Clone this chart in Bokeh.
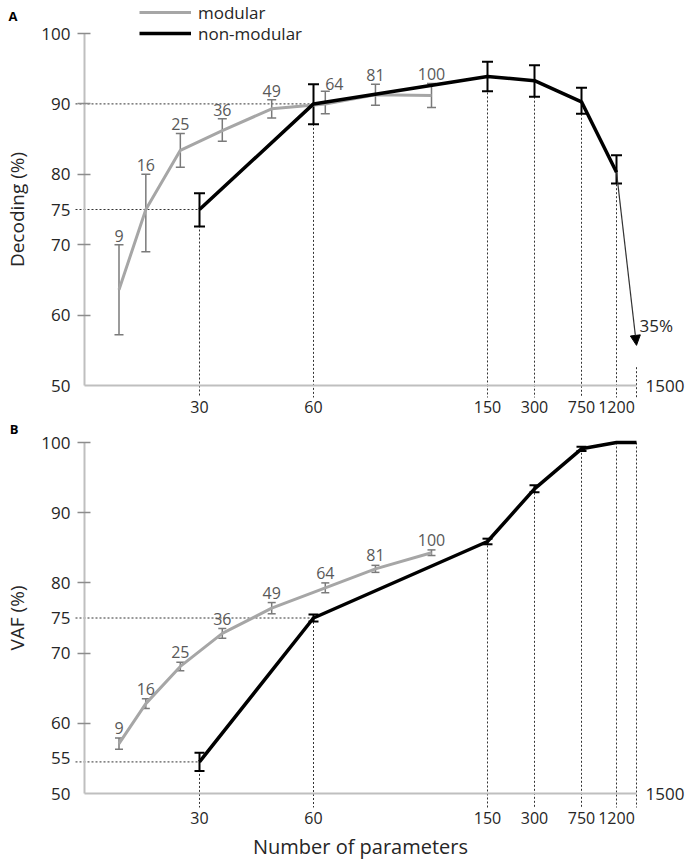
import numpy as np
from bokeh.plotting import figure
from bokeh.models import (ColumnDataSource, Range1d, FixedTicker, Whisker, TeeHead,
                          Arrow, NormalHead, Label, Legend, LegendItem)
from bokeh.layouts import column
from bokeh.embed import file_html
from bokeh.resources import INLINE
from bokeh.core.properties import value

# ---------------- data ----------------
modular_n = [9, 16, 25, 36, 49, 64, 81, 100]
nonmod_n_A = [30, 60, 150, 300, 750, 1200]
nonmod_n_B = [30, 60, 150, 300, 750, 1200, 1500]

dec_mod = [63.6, 75.0, 83.4, 86.2, 89.3, 90.0, 91.3, 91.2]
dec_mod_lo = [57.2, 69.0, 81.0, 84.7, 88.0, 88.6, 89.8, 89.5]
dec_mod_hi = [70.0, 80.0, 85.8, 87.9, 90.6, 91.8, 92.8, 92.9]
dec_non = [75.0, 90.0, 93.9, 93.3, 90.3, 80.3]
dec_non_lo = [72.6, 87.1, 91.8, 91.0, 88.6, 78.7]
dec_non_hi = [77.3, 92.8, 96.0, 95.5, 92.3, 82.7]
drop_n = 1500
drop_label = "35%"

vaf_mod = [57.1, 62.8, 68.1, 72.8, 76.4, 79.3, 82.0, 84.3]
vaf_mod_err = [0.8, 0.7, 0.6, 0.7, 0.8, 0.7, 0.5, 0.4]
vaf_non = [54.5, 75.0, 85.9, 93.4, 99.1, 100.0, 100.0]
vaf_non_err = [1.3, 0.5, 0.4, 0.5, 0.3, 0.0, 0.0]

x_tick_n = [30, 60, 150, 300, 750, 1200]
end_n = 1500
y_ticks_A = [50, 60, 70, 75, 80, 90, 100]
y_ticks_B = [50, 55, 60, 70, 75, 80, 90, 100]
y_tick_marks = [60, 70, 80, 90, 100]
series_names = ["modular", "non-modular"]

# piecewise axis scale of the original (number of parameters -> axis position)
axis_knots_n = [0, 30, 60, 100, 150, 300, 750, 1200, 1500]
axis_knots_pos = [0, 115, 229, 347, 403, 450, 497, 532, 552]


def xpos(n):
    return np.interp(np.asarray(n, dtype=float), axis_knots_n, axis_knots_pos)


FONT = "Open Sans"
TXT = "#262626"
GRAY_LINE = "#a6a6a6"
GRAY_ERR = "#7a7a7a"
DOT = "#333333"
W = 686
AXIS_X = 84  # pixel column of the y axis


def make_panel(height, ylabel, y_ticks, px_per_unit, top_px, x_standoff, xlabel=None):
    y_top = 100 + top_px / px_per_unit
    y_bot = 100 - (height - top_px) / px_per_unit
    p = figure(width=W, height=height,
               x_range=Range1d(-AXIS_X, W - AXIS_X), y_range=Range1d(y_bot, y_top),
               output_backend="svg", toolbar_location=None, min_border=0)
    p.outline_line_color = None
    p.xgrid.visible = False
    p.ygrid.visible = False
    # y axis
    ya = p.yaxis[0]
    ya.fixed_location = 0
    ya.bounds = (50, 100)
    ya.ticker = FixedTicker(ticks=y_ticks, minor_ticks=y_tick_marks)
    ya.major_tick_line_color = None
    ya.major_tick_out = 0
    ya.major_tick_in = 0
    ya.minor_tick_line_color = "#8c8c8c"
    ya.minor_tick_line_width = 1.5
    ya.minor_tick_in = 6
    ya.minor_tick_out = 7
    ya.axis_line_color = "#bfbfbf"
    ya.axis_line_width = 2
    ya.major_label_standoff = 7
    ya.major_label_text_font = FONT
    ya.major_label_text_font_size = "17px"
    ya.major_label_text_color = TXT
    ya.axis_label = ylabel
    ya.axis_label_text_font = FONT
    ya.axis_label_text_font_size = "19px"
    ya.axis_label_text_font_style = "normal"
    ya.axis_label_text_color = TXT
    ya.axis_label_standoff = 8
    # x axis
    xa = p.xaxis[0]
    xa.fixed_location = 50
    tick_pos = [int(round(float(v))) for v in xpos(x_tick_n)]
    xa.ticker = FixedTicker(ticks=tick_pos, minor_ticks=[])
    xa.major_label_overrides = {t: str(n) for t, n in zip(tick_pos, x_tick_n)}
    xa.major_tick_line_color = None
    xa.minor_tick_line_color = None
    xa.major_tick_out = 0
    xa.major_tick_in = 0
    xa.axis_line_color = "#bfbfbf"
    xa.axis_line_width = 2
    xa.bounds = (0, float(xpos(end_n)))
    xa.major_label_standoff = x_standoff
    xa.major_label_text_font = FONT
    xa.major_label_text_font_size = "16px"
    xa.major_label_text_color = TXT
    if xlabel:
        xa.axis_label = xlabel
        xa.axis_label_text_font = FONT
        xa.axis_label_text_font_size = "20px"
        xa.axis_label_text_font_style = "normal"
        xa.axis_label_text_color = TXT
        xa.axis_label_standoff = 6
    # end label "1500"
    p.add_layout(Label(x=float(xpos(end_n)), y=50, x_offset=9, text=str(end_n),
                       text_align="left", text_baseline="middle",
                       text_font=FONT, text_font_size="17px", text_color=TXT))
    return p


def dotted(p, x0, y0, x1, y1):
    src = ColumnDataSource(dict(x0=list(x0), y0=list(y0), x1=list(x1), y1=list(y1)))
    p.add_layout(Arrow(x_start="x0", y_start="y0", x_end="x1", y_end="y1", source=src,
                       end=None, start=None, line_dash="2 2", line_width=1,
                       line_color=DOT, level="underlay"))


def errors(p, xs, lo, hi, color, width, cap):
    src = ColumnDataSource(dict(x=list(xs), lo=list(lo), hi=list(hi)))
    p.add_layout(Whisker(base="x", lower="lo", upper="hi", source=src,
                         line_color=color, line_width=width,
                         upper_head=TeeHead(size=cap, line_color=color, line_width=width),
                         lower_head=TeeHead(size=cap, line_color=color, line_width=width)))


def point_labels(p, xs, tops, dx, dy):
    src = ColumnDataSource(dict(x=list(xs), y=list(tops), t=[str(n) for n in modular_n],
                                dx=dx, dy=dy))
    p.text(x="x", y="y", text="t", x_offset="dx", y_offset="dy", source=src,
           text_align="center", text_baseline="bottom",
           text_font=value(FONT), text_font_size="16px", text_color="#595959")


def legend_row(p, label, renderer, center_px, height):
    p.add_layout(Legend(items=[LegendItem(label=label, renderers=[renderer])],
                        location=(139, height - center_px - 12), orientation="vertical",
                        glyph_width=52, glyph_height=24, label_height=24, label_standoff=7,
                        spacing=0, padding=0, margin=0,
                        background_fill_alpha=0, border_line_color=None,
                        label_text_font=FONT, label_text_font_size="17px",
                        label_text_color=TXT))


# ---------------- panel A ----------------
HA, PXA = 420, 7.04
pA = make_panel(HA, "Decoding (%)", y_ticks_A, PXA, 33, 15)
xm = xpos(modular_n)
xnA = xpos(nonmod_n_A)
floorA = 50 - 12 / PXA
dotted(pA, xnA, dec_non, xnA, [floorA] * len(xnA))
dotted(pA, [xpos(end_n)], [52.6], [xpos(end_n)], [floorA])
dotted(pA, [-9, -9], dec_non[:2], xnA[:2], dec_non[:2])
r_mod = pA.line(xm, dec_mod, line_color=GRAY_LINE, line_width=3)
r_non = pA.line(xnA, dec_non, line_color="black", line_width=3.5)
errors(pA, xm, dec_mod_lo, dec_mod_hi, GRAY_ERR, 1.5, 9)
errors(pA, xnA, dec_non_lo, dec_non_hi, "black", 2, 11)
point_labels(pA, xm, dec_mod_hi, [0, 0, 0, 0, 0, 9, 0, 0], [-3, -3, -3, -3, -3, -1, -3, -3])
pA.add_layout(Arrow(x_start=float(xnA[-1]), y_start=dec_non[-1], x_end=float(xpos(drop_n)), y_end=55.7,
                    end=NormalHead(size=10, fill_color="black", line_color="black", line_width=1),
                    line_width=1.2, line_color=DOT))
pA.add_layout(Label(x=float(xpos(drop_n)), y=58.5, x_offset=3, text=drop_label,
                    text_align="left", text_baseline="middle",
                    text_font=FONT, text_font_size="17px", text_color=TXT))
pA.add_layout(Label(x=-71.5, y=100 + 18 / PXA, text="A", text_align="center", text_baseline="middle",
                    text_font=FONT, text_font_size="13px", text_font_style="bold", text_color="black"))
legend_row(pA, series_names[0], r_mod, 12, HA)
legend_row(pA, series_names[1], r_non, 33, HA)

# ---------------- panel B ----------------
HB, PXB = 442, 7.02
pB = make_panel(HB, "VAF (%)", y_ticks_B, PXB, 22, 18, xlabel="Number of parameters")
xnB = xpos(nonmod_n_B)
floorB = 50 - 14 / PXB
dotted(pB, xnB, vaf_non, xnB, [floorB] * len(xnB))
dotted(pB, [-9, -9], vaf_non[:2], xnB[:2], vaf_non[:2])
pB.line(xm, vaf_mod, line_color=GRAY_LINE, line_width=3)
pB.line(xnB, vaf_non, line_color="black", line_width=3.5)
vm_lo = [v - e for v, e in zip(vaf_mod, vaf_mod_err)]
vm_hi = [v + e for v, e in zip(vaf_mod, vaf_mod_err)]
vn_lo = [v - e for v, e in zip(vaf_non, vaf_non_err)]
vn_hi = [v + e for v, e in zip(vaf_non, vaf_non_err)]
errors(pB, xm, vm_lo, vm_hi, GRAY_ERR, 1.5, 8)
errors(pB, xnB[:-2], vn_lo[:-2], vn_hi[:-2], "black", 2, 10)
point_labels(pB, xm, vm_hi, [0] * 8, [-4] * 8)
pB.add_layout(Label(x=-70.5, y=100 + 13.5 / PXB, text="B", text_align="center", text_baseline="middle",
                    text_font=FONT, text_font_size="13px", text_font_style="bold", text_color="black"))

layout = column(pA, pB)
open("out.html", "w").write(file_html(layout, INLINE))
